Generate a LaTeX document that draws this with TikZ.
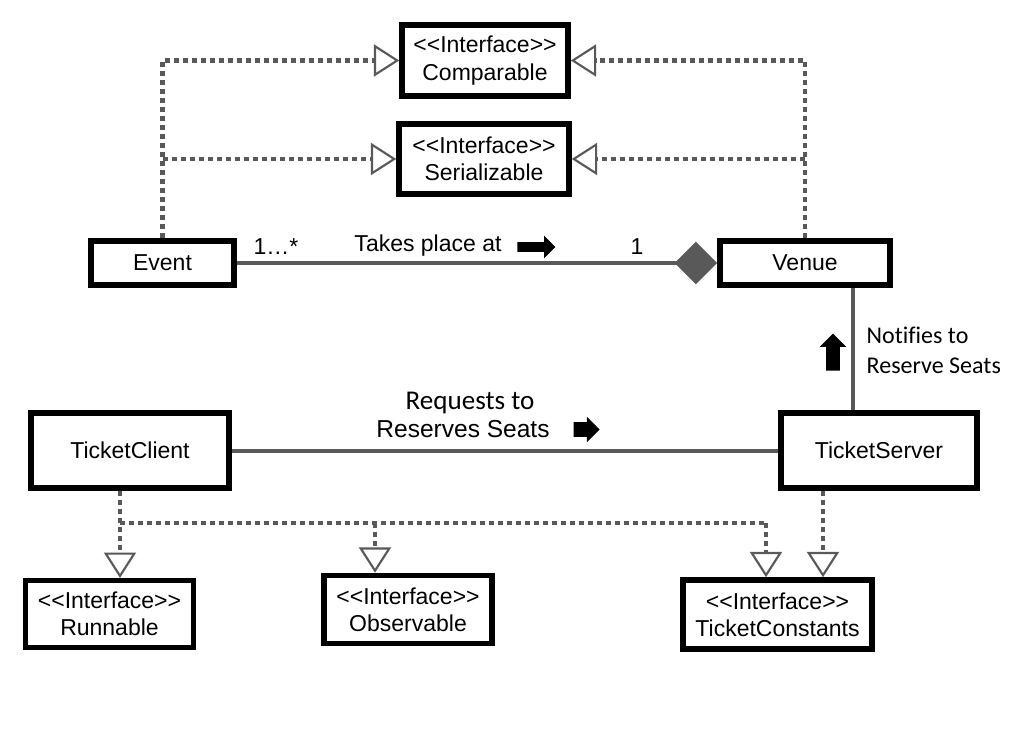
\documentclass[tikz,border=0pt]{standalone}
\usepackage{fontspec}
\setmainfont{Liberation Sans}
\newfontfamily\calfont{Carlito}[Ligatures=NoCommon]
\usepackage{tikz}
\usetikzlibrary{arrows.meta,positioning,shapes.arrows}
\definecolor{linegray}{HTML}{595959}
\newcommand{\iface}{<\kern0pt<Interface>\kern0pt>}

\begin{document}
\begin{tikzpicture}[
  x=0.75pt, y=-0.75pt,
  font=\fontsize{17.25}{20.5}\selectfont,
  box/.style={draw, line width=4.2pt, align=center, inner sep=0pt},
  assoc/.style={draw=linegray, line width=3pt},
  dots/.style={draw=linegray, line width=3.4pt, dash pattern=on 3.75pt off 3pt},
  realize/.style={dots, -{Triangle[open, length=19pt, width=24pt, line width=1.6pt]}},
  fat/.style={single arrow, fill=black, single arrow head extend=#1}]
\useasboundingbox (0,0) rectangle (1030,741);
% --- Interfaces on top ---
\node[box, minimum width=124.5pt, minimum height=53pt] (comparable) at (485,60.5) {\iface\\Comparable};
\node[box, minimum width=127.5pt, minimum height=52.5pt] (serial) at (484,159) {\iface\\Serializable};
% --- Event and Venue ---
\node[box, minimum width=107.25pt, minimum height=33pt] (event) at (162.5,263) {Event};
\node[box, minimum width=127.5pt, minimum height=33pt] (venue) at (805,263) {Venue};
\draw[realize] (event.north) |- (comparable.west);
\draw[realize] (event.north |- serial.west) -- (serial.west);
\draw[realize] (venue.north) |- (comparable.east);
\draw[realize] (venue.north |- serial.east) -- (serial.east);
\draw[assoc, -{Diamond[length=32pt, width=32pt, fill=linegray]}] (event) -- (venue);
\node (many) at (276,247) {1…*};
\node (takes) at (428,246) {Takes place at};
\node[fat=4.9pt, inner sep=3.4pt, minimum height=28.5pt] (takesarr) at (534,247) {};
\node (one) at (637,247) {1};
% --- Client and Server ---
\node[box, minimum width=148.5pt, minimum height=56.25pt] (client) at (130,450.5) {TicketClient};
\node[box, minimum width=147pt, minimum height=56.25pt] (server) at (879,450.5) {TicketServer};
\coordinate (notify) at ([xshift=36pt]venue.south);
\draw[assoc] (notify) -- (notify |- server.north);
\node[font=\calfont\fontsize{18}{22.5}\selectfont, align=left, anchor=west] (notifytxt) at (862,350) {Notifies to\\Reserve Seats};
\node[fat=4.9pt, inner sep=4.9pt, shape border rotate=90, minimum height=27.75pt] (notifyarr) at (833,355.5) {};
\draw[assoc] (client) -- (server);
\node[font=\calfont\fontsize{20.3}{24}\selectfont] (requests) at (470,403) {Requests to};
\node[font=\fontsize{18.4}{22}\selectfont] (reserves) at (463,429) {Reserves Seats};
\node[fat=4.1pt, inner sep=5.25pt, minimum height=19.5pt] (reservesarr) at (583,429.5) {};
% --- Interfaces at the bottom ---
\node[box, minimum width=126pt, minimum height=50pt] (runnable) at (109.5,614) {\iface\\Runnable};
\node[box, minimum width=126pt, minimum height=51pt] (observ) at (408,609.5) {\iface\\Observable};
\node[box, minimum width=141.75pt, minimum height=51.75pt] (const) at (777.5,614.5) {\iface\\TicketConstants};
\coordinate (bus) at (120,523);
\coordinate (busend) at (766,523);
\coordinate (obs) at (375,523);
\coordinate (drop) at (server.south -| 823,0);
\draw[realize] (client.south -| bus) -- (bus |- runnable.north);
\draw[dots] (bus) -- (busend);
\draw[realize] (obs) -- (obs |- observ.north);
\draw[realize] (busend) -- (busend |- const.north);
\draw[realize] (drop) -- (drop |- const.north);
\end{tikzpicture}
\end{document}
